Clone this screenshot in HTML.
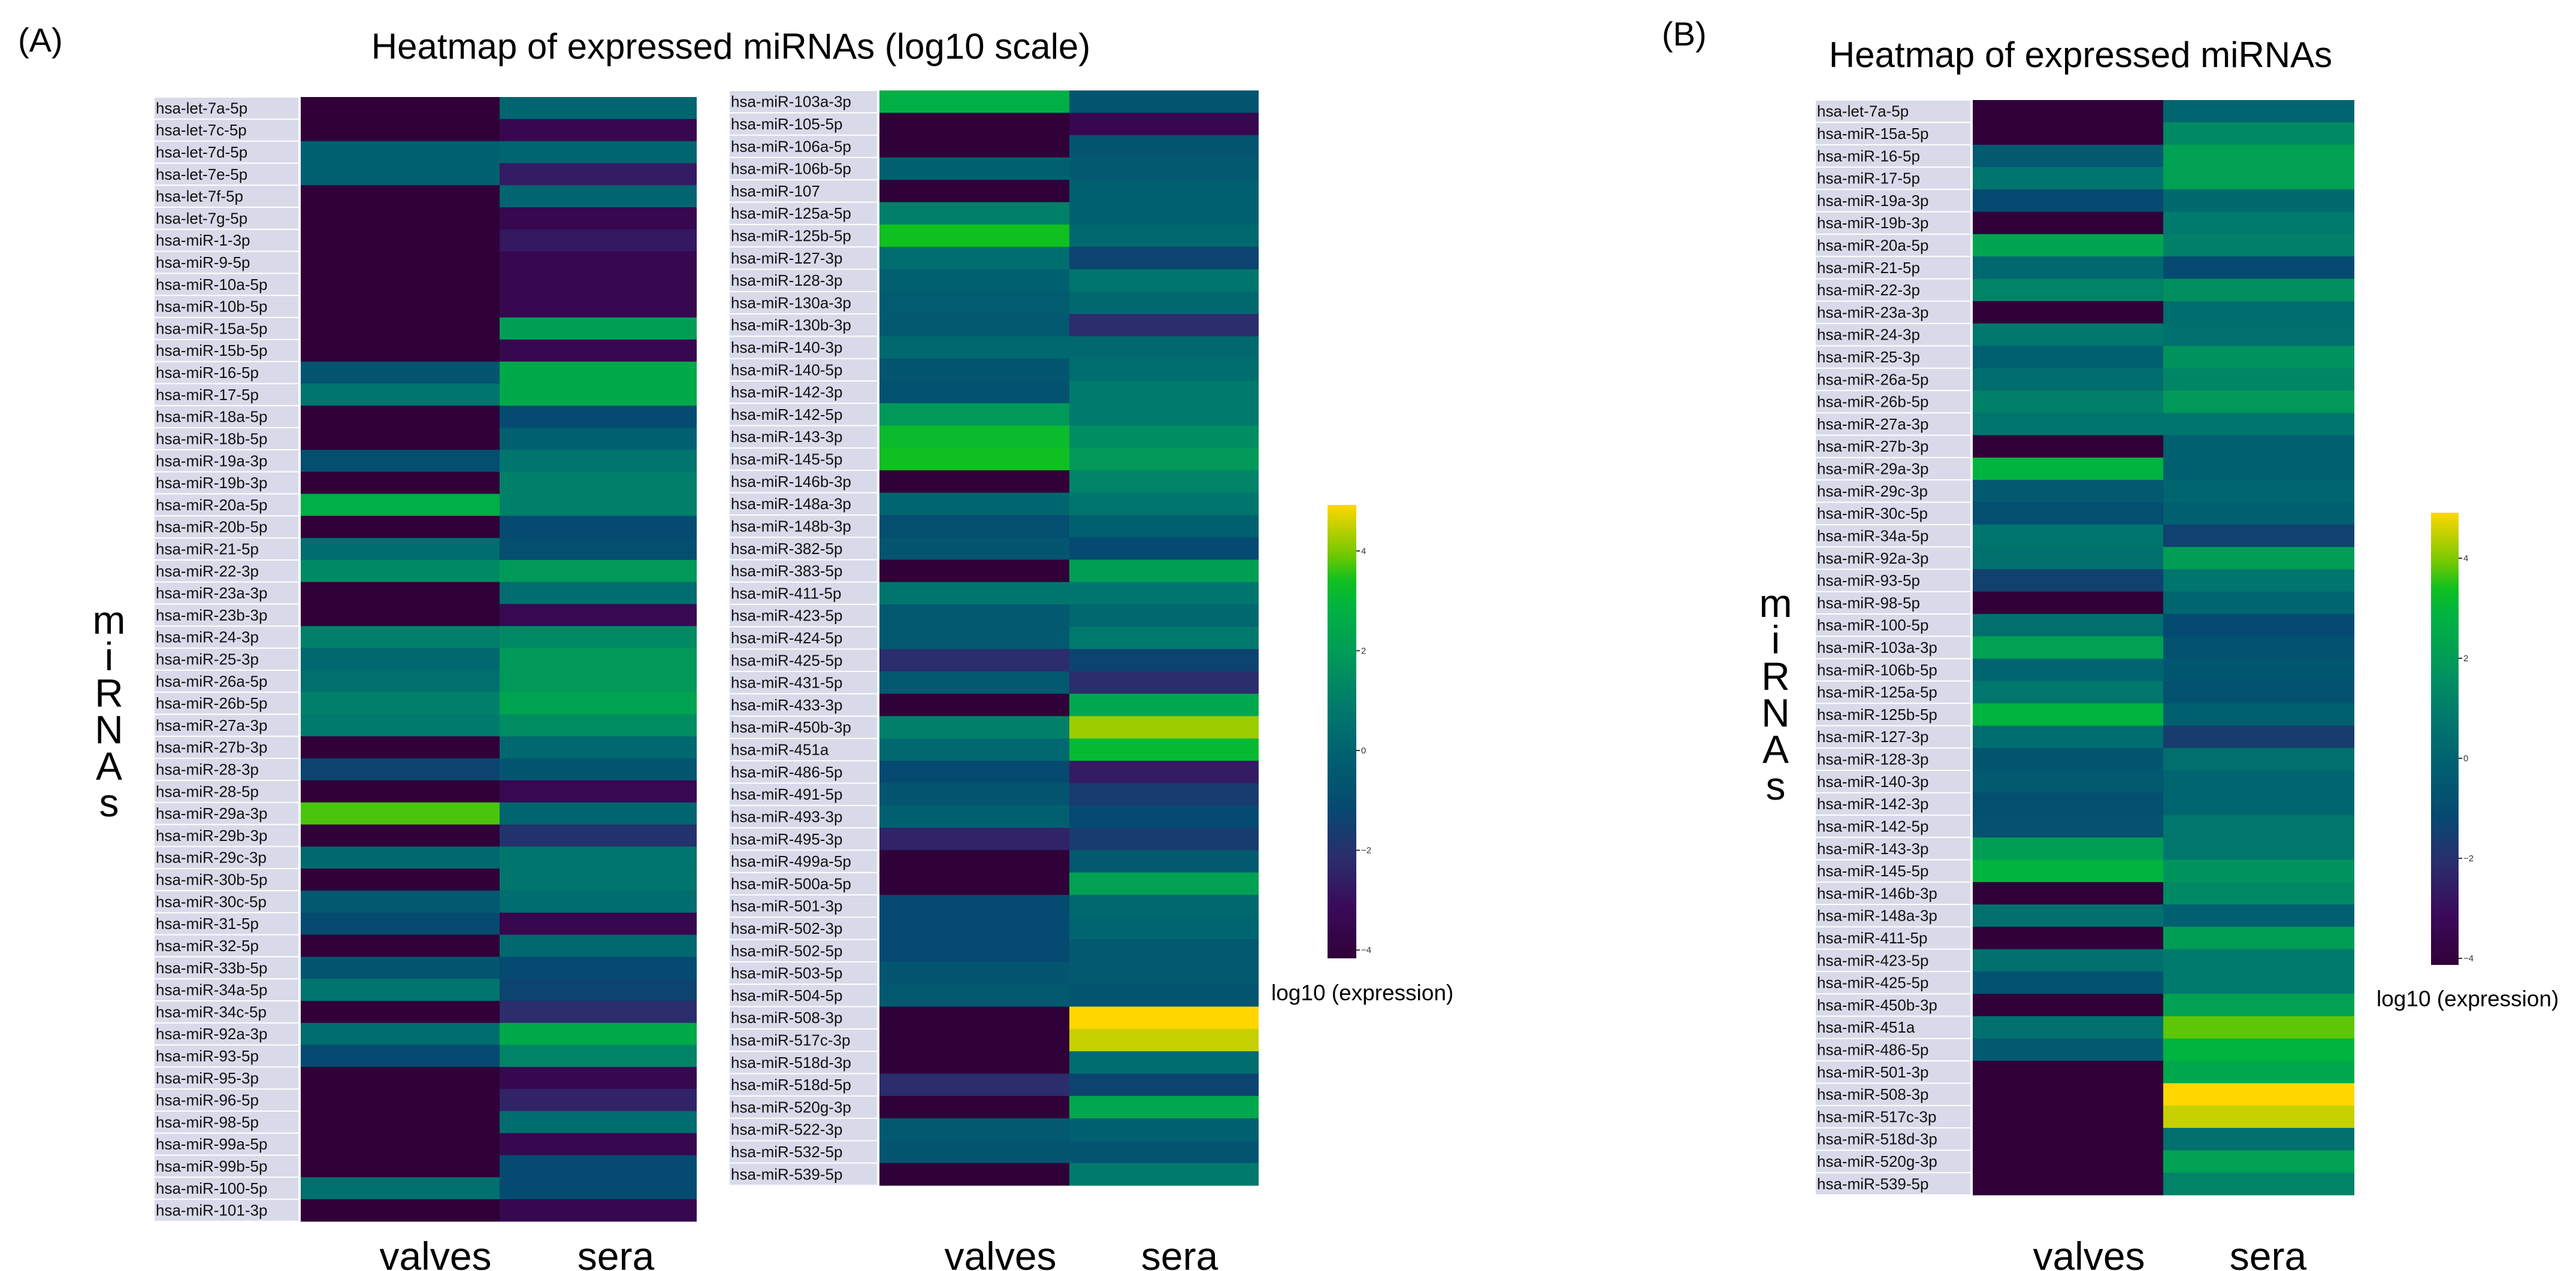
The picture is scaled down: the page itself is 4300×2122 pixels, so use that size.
<!DOCTYPE html>
<html><head><meta charset="utf-8"><style>
html,body{margin:0;padding:0;background:#fff;}
svg{display:block;font-family:"Liberation Sans",sans-serif;}
</style></head><body>
<svg id="fig" width="4300" height="2122" viewBox="0 0 4300 2122" xmlns="http://www.w3.org/2000/svg">
<text x="30" y="86" font-size="56">(A)</text>
<text x="1220" y="98" font-size="60" text-anchor="middle">Heatmap of expressed miRNAs (log10 scale)</text>
<text x="2774" y="76" font-size="56">(B)</text>
<text x="3473" y="112" font-size="60" text-anchor="middle">Heatmap of expressed miRNAs</text>
<g id="layer"></g>
</svg>
<script>
const labelsA1 = ["hsa-let-7a-5p","hsa-let-7c-5p","hsa-let-7d-5p","hsa-let-7e-5p","hsa-let-7f-5p","hsa-let-7g-5p","hsa-miR-1-3p","hsa-miR-9-5p","hsa-miR-10a-5p","hsa-miR-10b-5p","hsa-miR-15a-5p","hsa-miR-15b-5p","hsa-miR-16-5p","hsa-miR-17-5p","hsa-miR-18a-5p","hsa-miR-18b-5p","hsa-miR-19a-3p","hsa-miR-19b-3p","hsa-miR-20a-5p","hsa-miR-20b-5p","hsa-miR-21-5p","hsa-miR-22-3p","hsa-miR-23a-3p","hsa-miR-23b-3p","hsa-miR-24-3p","hsa-miR-25-3p","hsa-miR-26a-5p","hsa-miR-26b-5p","hsa-miR-27a-3p","hsa-miR-27b-3p","hsa-miR-28-3p","hsa-miR-28-5p","hsa-miR-29a-3p","hsa-miR-29b-3p","hsa-miR-29c-3p","hsa-miR-30b-5p","hsa-miR-30c-5p","hsa-miR-31-5p","hsa-miR-32-5p","hsa-miR-33b-5p","hsa-miR-34a-5p","hsa-miR-34c-5p","hsa-miR-92a-3p","hsa-miR-93-5p","hsa-miR-95-3p","hsa-miR-96-5p","hsa-miR-98-5p","hsa-miR-99a-5p","hsa-miR-99b-5p","hsa-miR-100-5p","hsa-miR-101-3p"];
const valvesA1 = [-4,-4,0,0,-4,-4,-4,-4,-4,-4,-4,-4,-0.5,0.8,-4,-4,-0.8,-4,2.8,-4,0.5,1.5,-4,-4,1.2,0.3,0.6,1.2,1,-4,-1.2,-4,3.8,-4,0.3,-4,-0.3,-1,-4,-0.5,0.8,-4,0.5,-1,-4,-4,-4,-4,-4,0.6,-4];
const seraA1 = [0.2,-3.3,0.2,-2.5,0.2,-3.3,-2.6,-3.3,-3.3,-3.3,2.2,-3.3,2.6,2.6,-1,0,0.8,1.2,1.2,-1,-0.8,2,0.5,-3.2,1.5,2,2,2.4,1.6,0.3,-0.5,-3.2,0.2,-1.8,0.8,0.8,0.5,-3.3,0.3,-1,-1.2,-2,2.6,1.3,-3.3,-2.3,0.5,-3.3,-1,-1,-3.3];

const labelsA2 = ["hsa-miR-103a-3p","hsa-miR-105-5p","hsa-miR-106a-5p","hsa-miR-106b-5p","hsa-miR-107","hsa-miR-125a-5p","hsa-miR-125b-5p","hsa-miR-127-3p","hsa-miR-128-3p","hsa-miR-130a-3p","hsa-miR-130b-3p","hsa-miR-140-3p","hsa-miR-140-5p","hsa-miR-142-3p","hsa-miR-142-5p","hsa-miR-143-3p","hsa-miR-145-5p","hsa-miR-146b-3p","hsa-miR-148a-3p","hsa-miR-148b-3p","hsa-miR-382-5p","hsa-miR-383-5p","hsa-miR-411-5p","hsa-miR-423-5p","hsa-miR-424-5p","hsa-miR-425-5p","hsa-miR-431-5p","hsa-miR-433-3p","hsa-miR-450b-3p","hsa-miR-451a","hsa-miR-486-5p","hsa-miR-491-5p","hsa-miR-493-3p","hsa-miR-495-3p","hsa-miR-499a-5p","hsa-miR-500a-5p","hsa-miR-501-3p","hsa-miR-502-3p","hsa-miR-502-5p","hsa-miR-503-5p","hsa-miR-504-5p","hsa-miR-508-3p","hsa-miR-517c-3p","hsa-miR-518d-3p","hsa-miR-518d-5p","hsa-miR-520g-3p","hsa-miR-522-3p","hsa-miR-532-5p","hsa-miR-539-5p"];
const valvesA2 = [2.8,-4,-4,0,-4,1.2,3.5,0.5,0,-0.2,-0.3,0.3,-0.5,-0.6,2,3.3,3.5,-4,0.2,-0.8,-0.5,-4,0.8,-0.3,-0.3,-2,-0.3,-4,1.2,0.3,-1,-0.5,0,-2.3,-4,-4,-1,-1,-1,-0.5,-0.3,-4,-4,-4,-2,-4,-0.3,-0.5,-4];
const seraA2 = [-0.5,-3.3,-0.5,-0.3,0,0,0.3,-1.2,0.8,0.3,-2,0.3,0.5,1,1,1.6,2,1.3,0.8,0,-1,2.2,0.8,0.3,1,-1.2,-2,2.5,4.3,3.2,-2.5,-1.5,-1,-1.5,-0.3,2.3,0.3,0.2,-0.3,-0.3,-0.5,5,4.6,0.5,-1.2,2.5,0,-0.5,1];

const labelsB = ["hsa-let-7a-5p","hsa-miR-15a-5p","hsa-miR-16-5p","hsa-miR-17-5p","hsa-miR-19a-3p","hsa-miR-19b-3p","hsa-miR-20a-5p","hsa-miR-21-5p","hsa-miR-22-3p","hsa-miR-23a-3p","hsa-miR-24-3p","hsa-miR-25-3p","hsa-miR-26a-5p","hsa-miR-26b-5p","hsa-miR-27a-3p","hsa-miR-27b-3p","hsa-miR-29a-3p","hsa-miR-29c-3p","hsa-miR-30c-5p","hsa-miR-34a-5p","hsa-miR-92a-3p","hsa-miR-93-5p","hsa-miR-98-5p","hsa-miR-100-5p","hsa-miR-103a-3p","hsa-miR-106b-5p","hsa-miR-125a-5p","hsa-miR-125b-5p","hsa-miR-127-3p","hsa-miR-128-3p","hsa-miR-140-3p","hsa-miR-142-3p","hsa-miR-142-5p","hsa-miR-143-3p","hsa-miR-145-5p","hsa-miR-146b-3p","hsa-miR-148a-3p","hsa-miR-411-5p","hsa-miR-423-5p","hsa-miR-425-5p","hsa-miR-450b-3p","hsa-miR-451a","hsa-miR-486-5p","hsa-miR-501-3p","hsa-miR-508-3p","hsa-miR-517c-3p","hsa-miR-518d-3p","hsa-miR-520g-3p","hsa-miR-539-5p"];
const valvesB = [-4,-4,-0.3,0.8,-1,-4,2.4,0.3,1.3,-4,0.9,0,0.5,1.2,0.8,-4,3,-0.3,-0.8,0.8,0.6,-1.3,-4,0.6,2.3,0.2,0.9,3,0.5,-0.5,-0.3,-0.8,-0.7,2.2,3,-4,0.6,-4,0.6,-0.6,-4,0.6,-0.3,-4,-4,-4,-4,-4,-4];
const seraB = [0.2,1.5,2.3,2.3,0.4,1,1.2,-1,1.7,0.5,0.6,1.8,1.4,2,0.8,0,0,0.2,0,-1.3,2.2,0.8,0.2,-1,-0.6,-0.4,-0.6,0,-1.5,0.6,0.2,0.2,0.9,0.9,1.8,1.5,0,2.2,1,1,2.3,3.9,3,2.5,5,4.6,0.6,2.3,1.3];

const colTicks = [4,2,0,-2,-4];
const colTickLabels = ["4","2","0","\u22122","\u22124"];

const stops = [[-4,[48,0,56]],[-3,[58,10,90]],[-2,[43,45,108]],[-1,[5,74,112]],[0,[0,96,112]],[1,[0,122,108]],[2,[0,153,90]],[3,[0,180,64]],[3.5,[16,192,32]],[4,[112,200,0]],[5,[255,214,0]]];
function color(v){
  v=Math.max(-4,Math.min(5,v));
  for(let i=1;i<stops.length;i++){
    if(v<=stops[i][0]){
      const a=stops[i-1],b=stops[i],t=(v-a[0])/(b[0]-a[0]);
      const c=a[1].map((x,k)=>Math.round(x+(b[1][k]-x)*t));
      return `rgb(${c[0]},${c[1]},${c[2]})`;
    }
  }
  return 'rgb(255,214,0)';
}
const NS="http://www.w3.org/2000/svg";
const layer=document.getElementById('layer');
function mk(tag,attrs,parent){const e=document.createElementNS(NS,tag);for(const k in attrs)e.setAttribute(k,attrs[k]);(parent||layer).appendChild(e);return e;}

function heatmap(id,labels,valves,sera,labX,cellX,splitX,cellR,top,bottom,colLabelX){
  const g=mk('g',{});
  
  
  const n=labels.length;
  const yScale=i=>top+(bottom-top)*i/n;
  for(let i=0;i<n;i++){
    const y0=yScale(i),y1=yScale(i+1);
    const bg=mk('rect',{x:labX,y:y0+1,width:cellX-labX-4,height:y1-y0-2,fill:'#d8dae9'},g);
    
    
    const t=mk('text',{x:labX+2,y:(y0+y1)/2+9,'font-size':26,fill:'#111'},g);
    t.textContent=labels[i];
    
    
    const c1=mk('rect',{x:cellX,y:y0,width:splitX-cellX,height:y1-y0+0.6,fill:color(valves[i])},g);
    
    
    const c2=mk('rect',{x:splitX,y:y0,width:cellR-splitX,height:y1-y0+0.6,fill:color(sera[i])},g);
    
    
  }
  const v=mk('text',{x:colLabelX[0],y:2120,'font-size':66,'text-anchor':'middle'},g);
  v.textContent='valves';
  
  
  const s=mk('text',{x:colLabelX[1],y:2120,'font-size':66,'text-anchor':'middle'},g);
  s.textContent='sera';
  
  
}
heatmap('heatmap-a-left',labelsA1,valvesA1,seraA1,258,502,834,1163,162,2039,[727,1028]);
heatmap('heatmap-a-right',labelsA2,valvesA2,seraA2,1218,1468,1785,2101,151,1979,[1670,1969]);
heatmap('heatmap-b',labelsB,valvesB,seraB,3031,3293,3611,3930,167,1995,[3487,3786]);

function yTitle(x,y0){
  const g=mk('g',{});
  
  
  const letters=['m','i','R','N','A','s'];
  for(let i=0;i<letters.length;i++){
    const t=mk('text',{x:x,y:y0+i*61,'font-size':66,'text-anchor':'middle'},g);
    t.textContent=letters[i];
  }
}
yTitle(182,1058);
yTitle(2964,1030);

let gid=0;
function colorbar(x,w,top,bot,yOf,labX,labY,labAnchor){
  const g=mk('g',{});
  
  
  const id='cg'+(gid++);
  const defs=mk('defs',{},g);
  const lg=mk('linearGradient',{id:id,x1:0,y1:1,x2:0,y2:0},defs);
  for(let v=-4;v<=5.001;v+=0.25){
    mk('stop',{offset:((v+4)/9).toFixed(4),'stop-color':color(v)},lg);
  }
  mk('rect',{x:x,y:top,width:w,height:bot-top,fill:`url(#${id})`},g);
  for(let i=0;i<colTicks.length;i++){
    const y=yOf(colTicks[i]);
    mk('line',{x1:x+w,x2:x+w+6,y1:y,y2:y,stroke:'#333','stroke-width':2},g);
    const t=mk('text',{x:x+w+8,y:y+5,'font-size':15,fill:'#333'},g);
    t.textContent=colTickLabels[i];
    
    
  }
  const l=mk('text',{x:labX,y:labY,'font-size':37,'text-anchor':labAnchor},g);
  l.textContent='log10 (expression)';
  
  
}
colorbar(2216,48,843,1600,v=>1253-(v)*83.3,2122,1670,'start');
colorbar(4058,46,856,1611,v=>1266-(v)*83.5,3967,1680,'start');
</script>
</body></html>
